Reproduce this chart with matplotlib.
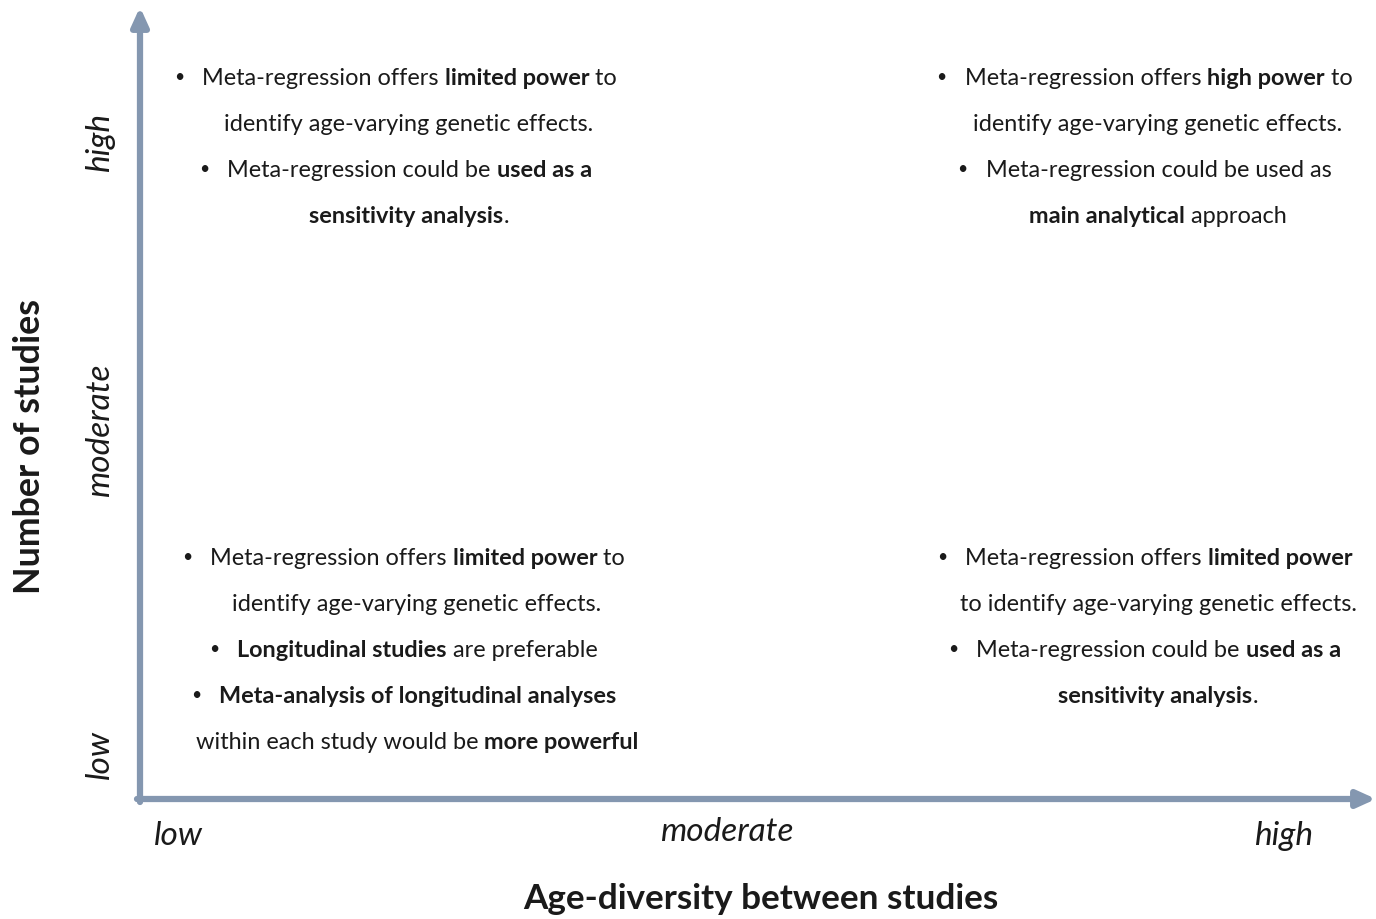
import matplotlib
matplotlib.use("Agg")
import matplotlib.pyplot as plt

plt.rcParams['font.family'] = ['Lato', 'DejaVu Sans']

# axis level labels
x_levels = ["low", "moderate", "high"]
y_levels = ["low", "moderate", "high"]
x_title = "Age-diversity between studies"
y_title = "Number of studies"

# quadrant texts: each line is (has_bullet, [(text, bold), ...])
top_left = [
    (True,  [("Meta-regression offers ", False), ("limited power", True), (" to", False)]),
    (False, [("identify age-varying genetic effects.", False)]),
    (True,  [("Meta-regression could be ", False), ("used as a", True)]),
    (False, [("sensitivity analysis", True), (".", False)]),
]
top_right = [
    (True,  [("Meta-regression offers ", False), ("high power", True), (" to", False)]),
    (False, [("identify age-varying genetic effects.", False)]),
    (True,  [("Meta-regression could be used as", False)]),
    (False, [("main analytical", True), (" approach", False)]),
]
bottom_left = [
    (True,  [("Meta-regression offers ", False), ("limited power", True), (" to", False)]),
    (False, [("identify age-varying genetic effects.", False)]),
    (True,  [("Longitudinal studies", True), (" are preferable", False)]),
    (True,  [("Meta-analysis of longitudinal analyses", True)]),
    (False, [("within each study would be ", False), ("more powerful", True)]),
]
bottom_right = [
    (True,  [("Meta-regression offers ", False), ("limited power", True)]),
    (False, [("to identify age-varying genetic effects.", False)]),
    (True,  [("Meta-regression could be ", False), ("used as a", True)]),
    (False, [("sensitivity analysis", True), (".", False)]),
]

W, H = 1376, 920
fig = plt.figure(figsize=(W / 100, H / 100), dpi=100)
ax = fig.add_axes([0, 0, 1, 1])
ax.set_xlim(0, W)
ax.set_ylim(H, 0)
ax.axis("off")

axis_col = "#8497B0"
txt_col = "#1a1a1a"
fs = 16.9

# axes arrows
ax.annotate("", xy=(140, 8), xytext=(140, 803),
            arrowprops=dict(arrowstyle="-|>,head_length=1.1,head_width=0.5",
                            color=axis_col, lw=4.5, shrinkA=0, shrinkB=0))
ax.annotate("", xy=(1376, 800), xytext=(137, 800),
            arrowprops=dict(arrowstyle="-|>,head_length=1.1,head_width=0.5",
                            color=axis_col, lw=4.5, shrinkA=0, shrinkB=0))

renderer = fig.canvas.get_renderer()


def text_width(s, bold):
    w = "bold" if bold else "normal"
    t1 = ax.text(0, 0, "|" + s + "|", fontsize=fs, fontweight=w)
    t2 = ax.text(0, 0, "||", fontsize=fs, fontweight=w)
    width = t1.get_window_extent(renderer).width - t2.get_window_extent(renderer).width
    t1.remove()
    t2.remove()
    return width


def draw_block(lines, cx, y0, dy=46, bullet_gap=25):
    for i, (bullet, segs) in enumerate(lines):
        widths = [text_width(s, b) for s, b in segs]
        total = sum(widths)
        base = y0 + i * dy + 8
        if bullet:
            left = cx - (total + bullet_gap) / 2 + bullet_gap
            ax.text(left - bullet_gap + 2, base - 8, "\u2022", fontsize=fs * 0.75,
                    color=txt_col, ha="center", va="center")
        else:
            left = cx + 12 - total / 2
        x = left
        for (s, b), w in zip(segs, widths):
            ax.text(x, base, s, fontsize=fs, color=txt_col, ha="left", va="baseline",
                    fontweight="bold" if b else "normal")
            x += w


draw_block(top_left, 397, 77)
draw_block(top_right, 1146, 77)
draw_block(bottom_left, 405, 557)
draw_block(bottom_right, 1146, 557)

# x level labels
for lab, xp, yp in zip(x_levels, [178, 727, 1284], [836, 832, 836]):
    ax.text(xp, yp, lab, fontsize=24, style="italic", color=txt_col,
            ha="center", va="center")
# y level labels
for lab, yp in zip(y_levels, [755, 430, 143]):
    ax.text(100, yp, lab, fontsize=24, style="italic", color=txt_col,
            ha="center", va="center", rotation=90)

ax.text(761, 899, x_title, fontsize=25.3, fontweight="bold", color=txt_col,
        ha="center", va="center")
ax.text(30, 447, y_title, fontsize=25.8, fontweight="bold", color=txt_col,
        ha="center", va="center", rotation=90)

fig.savefig("out.png", dpi=100, facecolor="white")
